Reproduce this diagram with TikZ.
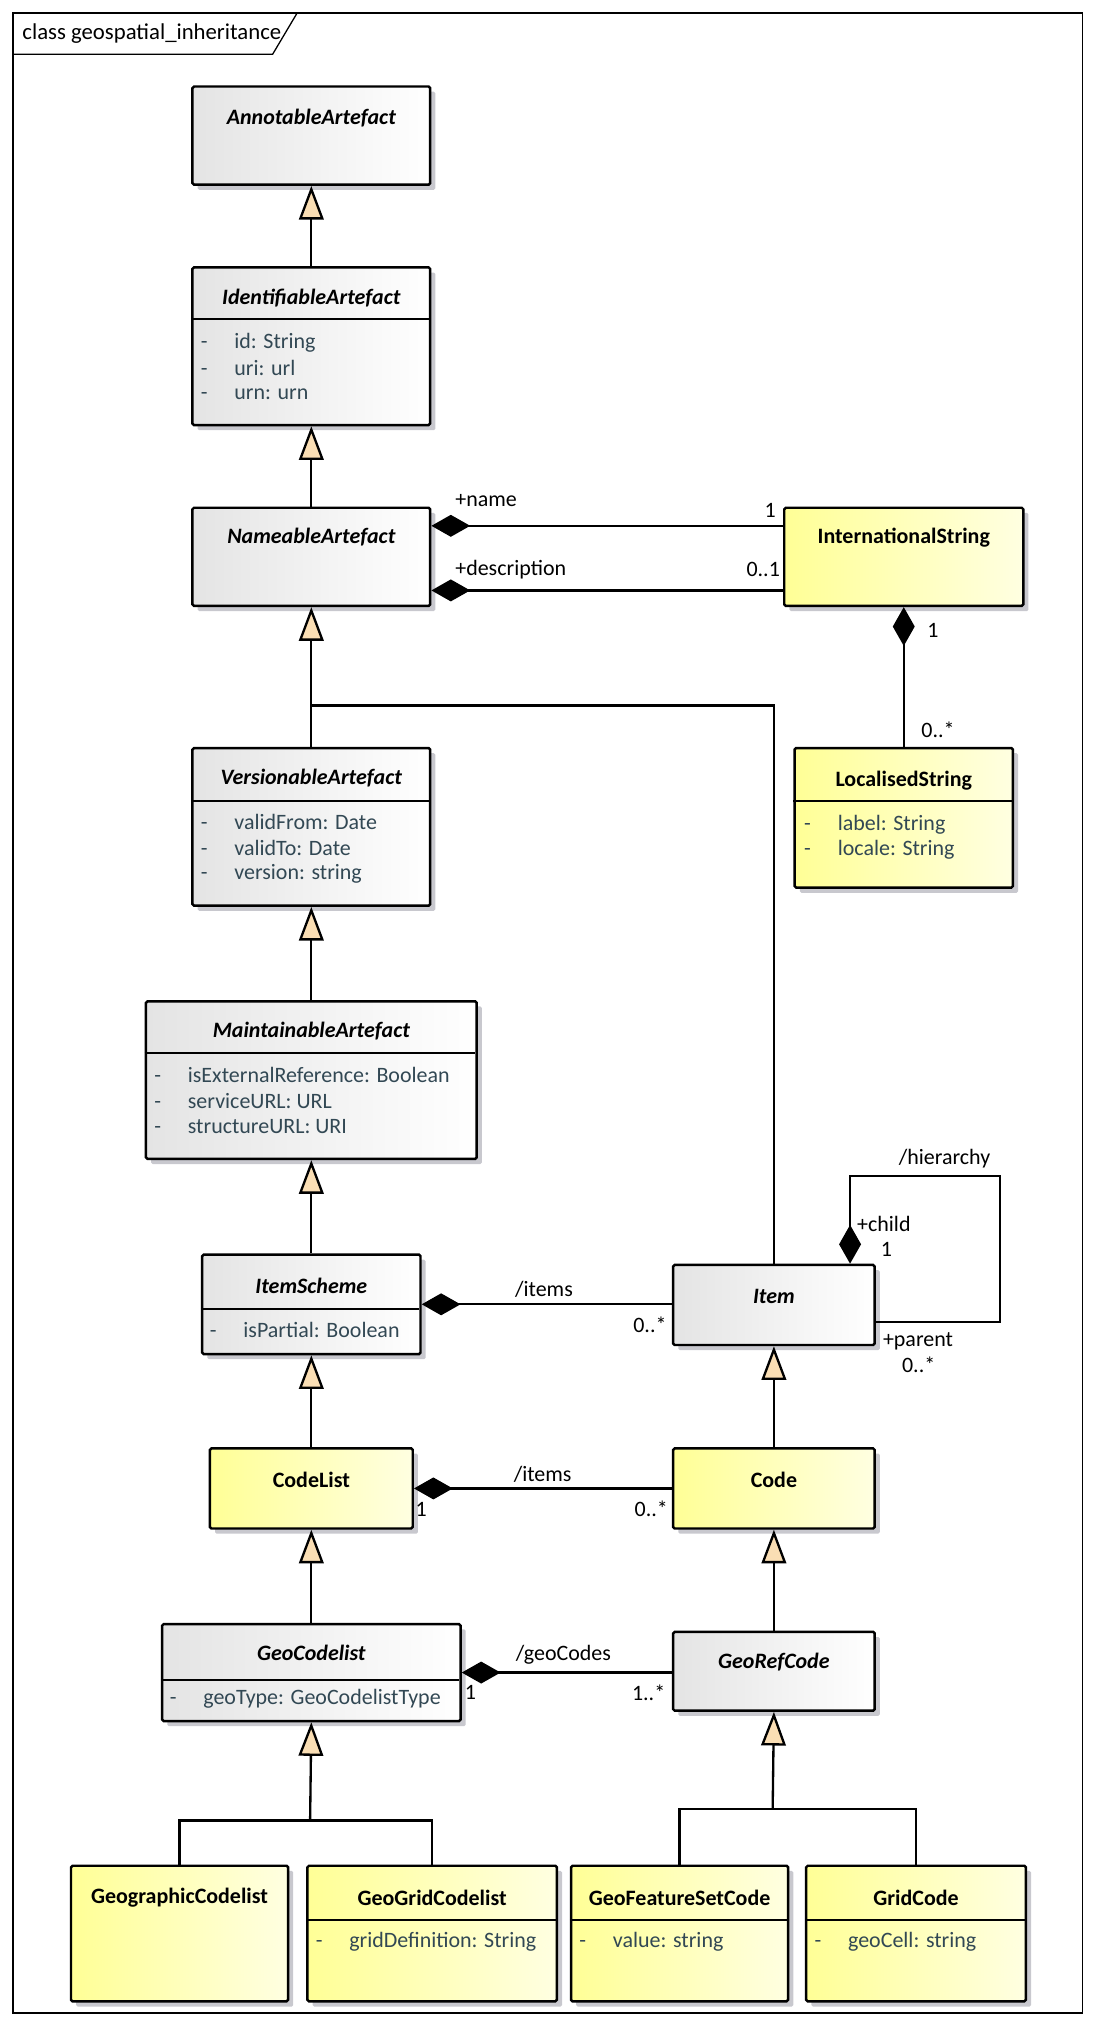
\documentclass[tikz,border=0pt]{standalone}
\usepackage{fontspec}
\setmainfont{Carlito}
\usetikzlibrary{arrows.meta,shadows}

\definecolor{absleft}{RGB}{228,228,228}
\definecolor{absright}{RGB}{255,255,255}
\definecolor{concleft}{RGB}{255,255,150}
\definecolor{concright}{RGB}{255,255,225}
\definecolor{genfill}{RGB}{250,222,180}
\definecolor{attrtext}{RGB}{50,72,84}
\definecolor{shadowgray}{RGB}{200,200,206}

\newcommand{\umlsize}{\fontsize{8.5}{10}\selectfont}

\tikzset{
  classbox/.style={draw, line width=0.95pt, rounded corners=0.6pt, anchor=north west,
    inner sep=0pt, drop shadow={shadow xshift=2pt, shadow yshift=-2pt, fill=shadowgray, opacity=1}},
  absbox/.style={classbox, left color=absleft, right color=absright},
  concbox/.style={classbox, left color=concleft, right color=concright},
  abstitle/.style={font=\umlsize\bfseries\itshape, inner sep=0pt},
  conctitle/.style={font=\umlsize\bfseries, inner sep=0pt},
  attr/.style={anchor=west, font=\umlsize, text=attrtext, inner sep=0pt},
  lbl/.style={font=\umlsize, inner sep=0pt},
  sep/.style={line width=0.95pt},
  link/.style={line width=0.9pt},
  gen/.style={link, -{Triangle[length=13pt,width=9.5pt,fill=genfill]}},
  comp/.style={link, {Diamond[length=15pt,width=8.5pt]}-},
}

\begin{document}
\begin{tikzpicture}[x=0.5pt, y=-0.5pt]
    \useasboundingbox (0,0) rectangle (848,1568);

    % Frame and its tab
    \draw[line width=0.5pt] (10,10) rectangle (838,1558);
    \draw[line width=0.5pt] (10,42) -- (211,42) -- (230,10);
    \node[anchor=west, font=\fontsize{8.8}{11}\selectfont, inner sep=0pt] (frameT) at (17,26) {class geospatial\_inheritance};

    % Upper chain of abstract classes
    \node[absbox, minimum width=92pt, minimum height=38pt] (annot) at (148,66) {};
    \node[abstitle] (annotT) at ([yshift=-12.5pt]annot.north) {AnnotableArtefact};

    \node[absbox, minimum width=92pt, minimum height=61pt] (ident) at (148,206) {};
    \node[abstitle] (identT) at ([yshift=-12.5pt]ident.north) {IdentifiableArtefact};
    \draw[sep] (148,247) -- (332,247);
    \node[attr] (identA1) at (155,265) {\makebox[13pt][l]{-}id: String};
    \node[attr] (identA2) at (155,285) {\makebox[13pt][l]{-}uri: url};
    \node[attr] (identA3) at (155,305) {\makebox[13pt][l]{-}urn: urn};

    \node[absbox, minimum width=92pt, minimum height=38pt] (nameable) at (148,392) {};
    \node[abstitle] (nameableT) at ([yshift=-12pt]nameable.north) {NameableArtefact};

    \node[absbox, minimum width=92pt, minimum height=61pt] (version) at (148,578) {};
    \node[abstitle] (versionT) at ([yshift=-12pt]version.north) {VersionableArtefact};
    \draw[sep] (148,620) -- (332,620);
    \node[attr] (versionA1) at (155,636) {\makebox[13pt][l]{-}validFrom: Date};
    \node[attr] (versionA2) at (155,656) {\makebox[13pt][l]{-}validTo: Date};
    \node[attr] (versionA3) at (155,676) {\makebox[13pt][l]{-}version: string};

    \node[absbox, minimum width=128pt, minimum height=61pt] (maint) at (112,774) {};
    \node[abstitle] (maintT) at ([yshift=-12pt]maint.north) {MaintainableArtefact};
    \draw[sep] (112,815) -- (368,815);
    \node[attr] (maintA1) at (119,832) {\makebox[13pt][l]{-}isExternalReference: Boolean};
    \node[attr] (maintA2) at (119,852) {\makebox[13pt][l]{-}serviceURL: URL};
    \node[attr] (maintA3) at (119,872) {\makebox[13pt][l]{-}structureURL: URI};

    \node[absbox, minimum width=84.5pt, minimum height=38.5pt] (scheme) at (155.5,970) {};
    \node[abstitle] (schemeT) at ([yshift=-12.5pt]scheme.north) {ItemScheme};
    \draw[sep] (155.5,1013) -- (324.5,1013);
    \node[attr] (schemeA1) at (162,1029) {\makebox[13pt][l]{-}isPartial: Boolean};

    % International strings
    \node[concbox, minimum width=92.5pt, minimum height=38pt] (intl) at (606,392) {};
    \node[conctitle] (intlT) at ([yshift=-12pt]intl.north) {InternationalString};

    \node[concbox, minimum width=84.5pt, minimum height=54pt] (local) at (614,578) {};
    \node[conctitle] (localT) at ([yshift=-13pt]local.north) {LocalisedString};
    \draw[sep] (614,620) -- (783,620);
    \node[attr] (localA1) at (622,638) {\makebox[13pt][l]{-}label: String};
    \node[attr] (localA2) at (622,658) {\makebox[13pt][l]{-}locale: String};

    % Items and codes
    \node[absbox, minimum width=78pt, minimum height=31pt] (item) at (520,978) {};
    \node[abstitle] (itemT) at ([yshift=-12.5pt]item.north) {Item};

    \node[concbox, minimum width=78.5pt, minimum height=31pt] (codelist) at (161.5,1120) {};
    \node[conctitle] (codelistT) at ([yshift=-12.5pt]codelist.north) {CodeList};

    \node[concbox, minimum width=78pt, minimum height=31pt] (code) at (520,1120) {};
    \node[conctitle] (codeT) at ([yshift=-12.5pt]code.north) {Code};

    \node[absbox, minimum width=115.5pt, minimum height=37.5pt] (geocl) at (124.5,1256) {};
    \node[abstitle] (geoclT) at ([yshift=-11.5pt]geocl.north) {GeoCodelist};
    \draw[sep] (124.5,1300) -- (355.5,1300);
    \node[attr] (geoclA1) at (131,1315) {\makebox[13pt][l]{-}geoType: GeoCodelistType};

    \node[absbox, minimum width=78pt, minimum height=30.5pt] (georef) at (520,1262) {};
    \node[abstitle] (georefT) at ([yshift=-12pt]georef.north) {GeoRefCode};

    % Bottom row of concrete classes
    \node[concbox, minimum width=84pt, minimum height=52.5pt] (geographic) at (54,1443) {};
    \node[conctitle] (geographicT) at ([yshift=-13pt]geographic.north) {GeographicCodelist};

    \node[concbox, minimum width=96.5pt, minimum height=52.5pt] (geogrid) at (237,1443) {};
    \node[conctitle] (geogridT) at ([yshift=-13pt]geogrid.north) {GeoGridCodelist};
    \draw[sep] (237,1486) -- (430,1486);
    \node[attr] (geogridA1) at (244,1503) {\makebox[13pt][l]{-}gridDefinition: String};

    \node[concbox, minimum width=84pt, minimum height=52.5pt] (geofeat) at (441,1443) {};
    \node[conctitle] (geofeatT) at ([yshift=-13pt]geofeat.north) {GeoFeatureSetCode};
    \draw[sep] (441,1486) -- (609,1486);
    \node[attr] (geofeatA1) at (448,1503) {\makebox[13pt][l]{-}value: string};

    \node[concbox, minimum width=85pt, minimum height=52.5pt] (gridcode) at (623,1443) {};
    \node[conctitle] (gridcodeT) at ([yshift=-13pt]gridcode.north) {GridCode};
    \draw[sep] (623,1486) -- (793,1486);
    \node[attr] (gridcodeA1) at (630,1503) {\makebox[13pt][l]{-}geoCell: string};

    % Generalisations
    \draw[gen] (ident.north) -- (annot.south);
    \draw[gen] (nameable.north) -- (ident.south);
    \draw[gen] (version.north) -- (nameable.south);
    \coordinate (vjoin) at (240,546);
    \draw[link] (item.north) |- (vjoin);
    \draw[gen] (maint.north) -- (version.south);
    \draw[gen] (scheme.north) -- (maint.south);
    \draw[gen] (codelist.north) -- (scheme.south);
    \draw[gen] (geocl.north) -- (codelist.south);
    \draw[gen] (code.north) -- (item.south);
    \draw[gen] (georef.north) -- (code.south);

    \coordinate (cjoin) at (240,1409);
    \draw[gen] (cjoin) -- (geocl.south);
    \draw[link] (geographic.north) |- (cjoin) -| (geogrid.north);

    \coordinate (rjoin) at (598,1400);
    \draw[gen] (rjoin) -- (georef.south);
    \draw[link] (geofeat.north) |- (rjoin) -| (gridcode.north);

    % Compositions
    \draw[comp] ([yshift=12pt]nameable.east) -- ([yshift=12pt]intl.west);
    \draw[comp] ([yshift=-13pt]nameable.east) -- ([yshift=-13pt]intl.west);
    \draw[comp] (intl.south) -- (local.north);
    \draw[comp] (scheme.east) -- (scheme.east -| item.west);
    \draw[comp] (codelist.east) -- (code.west);
    \draw[comp] (geocl.east) -- (geocl.east -| georef.west);

    % Self association of Item
    \coordinate (hier) at (774,910);
    \draw[comp] ([xshift=-10pt]item.north east) |- (hier) |- ([yshift=-6.5pt]item.east);

    % Role names and multiplicities
    \node[lbl, anchor=west] (nameL) at (352,387) {+name};
    \node[lbl] (nameM) at (596,395) {1};
    \node[lbl, anchor=west] (descL) at (352,441) {+description};
    \node[lbl, anchor=east] (descM) at (604,441) {0..1};
    \node[lbl] (intlM) at (722,488) {1};
    \node[lbl] (localM) at (726,565) {0..*};
    \node[lbl] (itemsL) at (421,998) {/items};
    \node[lbl] (itemsM) at (503,1025) {0..*};
    \node[lbl] (hierL) at (731,897) {/hierarchy};
    \node[lbl, anchor=west] (childL) at (663,947) {+child};
    \node[lbl] (childM) at (686,967) {1};
    \node[lbl, anchor=west] (parentL) at (683,1038) {+parent};
    \node[lbl] (parentM) at (711,1056) {0..*};
    \node[lbl] (codesL) at (420,1141) {/items};
    \node[lbl] (codesM1) at (326,1168) {1};
    \node[lbl] (codesM2) at (504,1168) {0..*};
    \node[lbl] (geoL) at (436,1281) {/geoCodes};
    \node[lbl] (geoM1) at (364,1310) {1};
    \node[lbl] (geoM2) at (502,1310) {1..*};
\end{tikzpicture}
\end{document}
